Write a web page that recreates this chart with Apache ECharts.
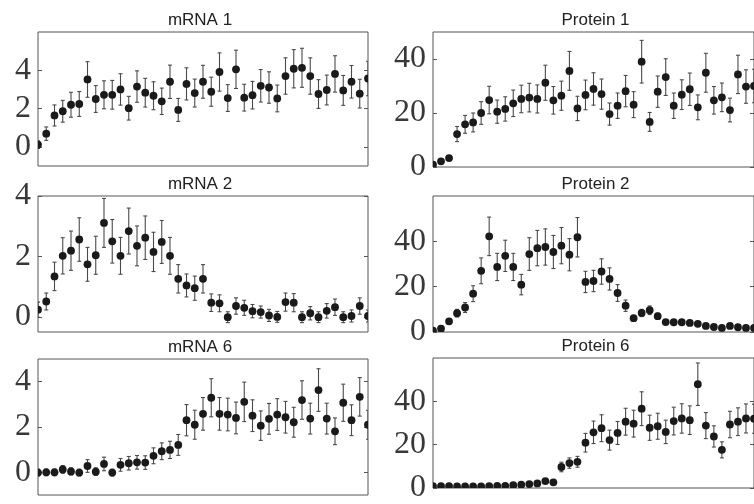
<!DOCTYPE html>
<html>
<head>
<meta charset="utf-8">
<script src="https://cdn.jsdelivr.net/npm/echarts@6/dist/echarts.min.js"></script>
<style>
  html, body { margin: 0; padding: 0; background: #fff; }
  #main { width: 754px; height: 504px; }
</style>
</head>
<body>
<div id="main"></div>
<script>
// mean values and error bar half-lengths, one point per time step (0..40)
var mRNA1Mean = [0.12,0.69,1.64,1.86,2.2,2.24,3.52,2.5,2.72,2.72,3.0,2.02,3.15,2.83,2.67,2.38,3.4,1.93,3.29,2.81,3.4,2.88,3.91,2.55,4.05,2.57,2.7,3.19,3.1,2.53,3.7,4.08,4.13,3.7,2.76,2.97,3.81,2.95,3.4,2.78,3.57];
var mRNA1Err = [0.2,0.35,0.55,0.57,0.65,0.65,0.93,0.7,0.73,0.75,0.82,0.62,0.82,0.75,0.73,0.69,0.87,0.6,0.84,0.73,0.86,0.76,1.0,0.7,1.0,0.7,0.72,0.85,0.82,0.7,0.95,1.0,1.02,0.95,0.75,0.78,0.95,0.78,0.85,0.75,0.9];

var mRNA2Mean = [0.24,0.51,1.34,2.02,2.19,2.56,1.74,2.04,3.11,2.5,2.02,2.84,2.35,2.62,2.15,2.48,2.02,1.26,1.04,0.95,1.26,0.47,0.45,-0.01,0.36,0.3,0.19,0.16,0.05,0.0,0.49,0.47,-0.01,0.12,-0.01,0.2,0.32,-0.01,0.03,0.36,0.03];
var mRNA2Err = [0.25,0.28,0.47,0.6,0.65,0.72,0.56,0.63,0.81,0.72,0.61,0.76,0.66,0.72,0.65,0.71,0.61,0.47,0.38,0.4,0.47,0.29,0.28,0.18,0.27,0.25,0.22,0.2,0.2,0.18,0.3,0.3,0.18,0.22,0.18,0.24,0.27,0.18,0.2,0.27,0.2];

var mRNA6Mean = [-0.01,0,0,0.13,0.04,-0.01,0.28,0.03,0.37,-0.01,0.33,0.4,0.44,0.43,0.73,0.93,0.99,1.21,2.3,2.1,2.58,3.29,2.58,2.55,2.4,3.11,2.5,2.06,2.36,2.55,2.43,2.21,3.19,2.37,3.63,2.37,1.81,3.07,2.3,3.33,2.1];
var mRNA6Err = [0.15,0.15,0.15,0.17,0.16,0.15,0.28,0.17,0.3,0.15,0.28,0.3,0.3,0.3,0.35,0.37,0.38,0.46,0.69,0.64,0.72,0.84,0.72,0.72,0.7,0.87,0.7,0.65,0.68,0.7,0.7,0.66,0.85,0.68,0.94,0.68,0.59,0.82,0.68,0.85,0.64];

var protein1Mean = [0.9,2.1,3.3,12.2,15.8,16.5,20.0,24.8,20.5,21.5,23.6,25.2,25.7,25.2,31.2,24.7,26.4,35.6,21.7,26.7,28.9,27.0,19.6,22.7,28.1,23.1,39.0,16.7,27.9,33.3,22.7,26.8,28.8,22.1,34.9,24.7,25.8,21.1,34.3,29.8,30.0];
var protein1Err = [0.5,0.6,0.7,2.8,3.3,3.5,4.2,5.1,4.3,4.5,4.9,5.1,5.3,5.2,6.5,5.1,5.4,7.2,4.5,5.5,6.0,5.6,4.1,4.7,5.8,4.8,7.9,3.5,5.8,6.8,4.7,5.5,6.0,4.6,7.2,5.1,5.3,4.4,7.1,6.2,6.2];

var protein2Mean = [0.6,1.5,4.7,8.3,10.8,16.9,27.0,42.2,28.7,33.6,28.7,20.9,34.4,37.0,37.5,35.3,38.1,34.1,41.8,22.1,22.5,26.7,23.4,17.2,11.6,6.1,8.4,9.6,7.0,4.4,4.3,4.3,4.0,3.6,2.7,2.2,1.8,2.7,2.1,1.8,1.8];
var protein2Err = [0.3,0.5,1.0,1.7,2.2,3.5,5.7,8.5,6.0,6.9,6.0,4.5,7.2,7.8,8.0,7.3,8.0,7.1,8.7,4.7,4.7,5.6,4.9,3.7,2.5,1.2,1.6,1.9,1.3,0.7,0.6,0.6,0.6,0.5,0.4,0.4,0.3,0.4,0.3,0.3,0.3];

var protein6Mean = [0.9,0.9,0.9,0.7,0.7,0.7,0.7,0.9,1.0,1.0,1.3,1.5,1.8,2.1,3.2,2.6,9.7,11.5,12.1,20.9,25.7,27.6,22.1,25.4,30.6,29.7,36.6,27.8,28.5,25.9,30.9,32.1,31.3,47.9,28.8,23.8,17.6,29.3,30.6,32.1,32.0];
var protein6Err = [0.2,0.2,0.2,0.2,0.2,0.2,0.2,0.2,0.2,0.2,0.3,0.3,0.4,0.4,0.6,0.5,2.2,2.4,2.5,4.3,5.2,6.2,4.6,5.3,6.2,6.2,7.8,5.8,6.0,5.4,6.4,6.8,6.6,9.8,6.0,4.9,3.7,6.1,6.4,6.7,6.7];

var titles = ['mRNA 1', 'Protein 1', 'mRNA 2', 'Protein 2', 'mRNA 6', 'Protein 6'];
var mRNATicks = [0, 2, 4];
var proteinTicks = [0, 20, 40];

// panel layout (px) and axis ranges
var panels = [
    {mean: mRNA1Mean, err: mRNA1Err, left: 38, top: 32, width: 330, height: 134, min: -1, max: 6, ticks: mRNATicks},
    {mean: protein1Mean, err: protein1Err, left: 433, top: 32, width: 329, height: 135, min: 0, max: 50, ticks: proteinTicks},
    {mean: mRNA2Mean, err: mRNA2Err, left: 38, top: 196, width: 330, height: 136, min: -0.5, max: 4, ticks: mRNATicks},
    {mean: protein2Mean, err: protein2Err, left: 433, top: 196, width: 329, height: 136, min: 0, max: 60, ticks: proteinTicks},
    {mean: mRNA6Mean, err: mRNA6Err, left: 38, top: 359, width: 330, height: 136, min: -1, max: 5, ticks: mRNATicks},
    {mean: protein6Mean, err: protein6Err, left: 433, top: 358, width: 329, height: 137, min: 0, max: 60, ticks: proteinTicks}
];

function renderErrorBar(params, api) {
    var x = api.value(0), y = api.value(1), e = api.value(2);
    var hi = api.coord([x, y + e]);
    var lo = api.coord([x, y - e]);
    var c = api.coord([x, y]);
    var cap = 2;
    var barStyle = {stroke: '#4a4a4a', lineWidth: 1.1};
    return {
        type: 'group',
        children: [
            {type: 'line', shape: {x1: hi[0], y1: hi[1], x2: lo[0], y2: lo[1]}, style: barStyle},
            {type: 'line', shape: {x1: hi[0] - cap, y1: hi[1], x2: hi[0] + cap, y2: hi[1]}, style: barStyle},
            {type: 'line', shape: {x1: lo[0] - cap, y1: lo[1], x2: lo[0] + cap, y2: lo[1]}, style: barStyle},
            {type: 'circle', shape: {cx: c[0], cy: c[1], r: 3.9}, style: {fill: '#1a1a1a'}}
        ]
    };
}

var grid = [], xAxis = [], yAxis = [], series = [], title = [];
panels.forEach(function (p, i) {
    grid.push({left: p.left, top: p.top, width: p.width, height: p.height,
        show: true, borderColor: '#555', borderWidth: 1, backgroundColor: '#fff'});
    title.push({text: titles[i], left: p.left + p.width / 2 - (i % 2 ? 2 : 3), top: p.top - 20,
        textAlign: 'center', padding: 0,
        textStyle: {fontFamily: 'Liberation Sans', fontSize: 17, fontWeight: 'normal', color: '#222'}});
    xAxis.push({type: 'value', gridIndex: i, min: 0, max: 40,
        axisLine: {show: false}, axisTick: {show: false}, axisLabel: {show: false}, splitLine: {show: false}});
    ['left', 'right'].forEach(function (pos) {
        yAxis.push({type: 'value', gridIndex: i, position: pos, min: p.min, max: p.max,
            axisLine: {show: false}, splitLine: {show: false},
            axisTick: {show: true, inside: true, length: 4, customValues: p.ticks, lineStyle: {color: '#555'}},
            axisLabel: {show: pos === 'left', customValues: p.ticks, margin: 7,
                fontFamily: 'Liberation Serif', fontSize: 32, color: '#383838'}});
    });
    series.push({
        type: 'custom', xAxisIndex: i, yAxisIndex: i * 2, clip: true,
        renderItem: renderErrorBar,
        data: p.mean.map(function (m, k) { return [k, m, p.err[k]]; })
    });
});

var myChart = echarts.init(document.getElementById('main'));
myChart.setOption({
    animation: false,
    title: title,
    grid: grid,
    xAxis: xAxis,
    yAxis: yAxis,
    series: series
});
</script>
</body>
</html>
